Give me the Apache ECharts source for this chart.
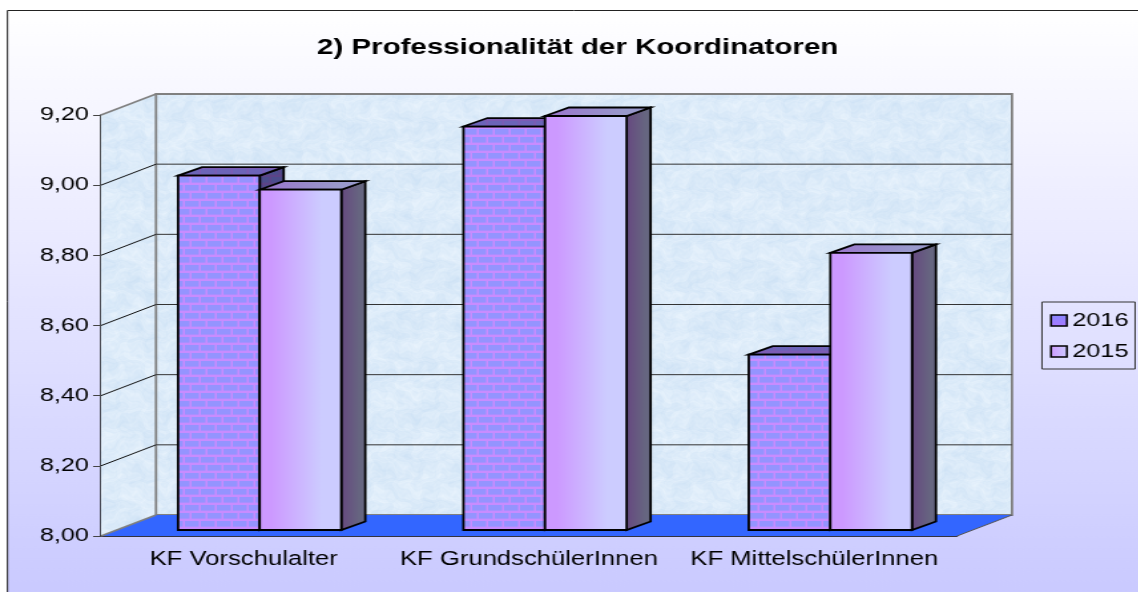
<!DOCTYPE html>
<html>
<head>
<meta charset="utf-8">
<style>
html, body { margin: 0; padding: 0; background: #fff; overflow: hidden; }
#wrap { width: 1139px; height: 592px; overflow: hidden; }
#chart { height: 592px; transform-origin: 0 0; }
</style>
<script src="https://cdn.jsdelivr.net/npm/echarts@6/dist/echarts.min.js"></script>
</head>
<body>
<div id="wrap"><div id="chart"></div></div>
<script>
var categories = ['KF Vorschulalter', 'KF GrundschülerInnen', 'KF MittelschülerInnen'];
var values2016 = [9.01, 9.15, 8.50];
var values2015 = [8.97, 9.18, 8.79];
var yTicks = [8.0, 8.2, 8.4, 8.6, 8.8, 9.0, 9.2];

// the original picture is stretched sideways, so draw narrow and stretch the same way
var stretch = 1.33;
var W = 1139 / stretch;
var dom = document.getElementById('chart');
dom.style.width = W + 'px';
dom.style.transform = 'scaleX(' + stretch + ')';

function sx(px) { return px / stretch; }

// 3d offsets
var wallDx = sx(55), wallDy = 21;
var floorDx = sx(16), floorDy = 6;
var barDx = sx(24), barDy = 8.5;
var barRatio = 0.286;

function brickTile(brick, mortar) {
    var c = document.createElement('canvas');
    c.width = 12; c.height = 16;
    var g = c.getContext('2d');
    g.fillStyle = mortar;
    g.fillRect(0, 0, 12, 16);
    g.fillStyle = brick;
    g.fillRect(0, 1, 10.5, 5.6);
    g.fillRect(7, 9, 10.5, 5.6);
    g.fillRect(-5, 9, 10.5, 5.6);
    return c;
}

// mottled pale blue wall paper
function wallTile() {
    var size = 240;
    var c = document.createElement('canvas');
    c.width = size; c.height = size;
    var g = c.getContext('2d');
    var img = g.createImageData(size, size);
    var k = 2 * Math.PI / size;
    for (var y = 0; y < size; y++) {
        for (var x = 0; x < size; x++) {
            var wx = x + 9 * Math.sin(k * 7 * y) + 4 * Math.sin(k * 17 * y);
            var wy = y + 9 * Math.cos(k * 5 * x) + 4 * Math.sin(k * 19 * x);
            var n = Math.sin(k * 4 * wx) * Math.cos(k * 5 * wy) * 0.45
                + Math.sin(k * 13 * wx) * Math.sin(k * 11 * wy) * 0.3
                + Math.sin(k * 29 * wx) * Math.cos(k * 31 * wy) * 0.25;
            var i = (y * size + x) * 4;
            img.data[i] = 220 + n * 14;
            img.data[i + 1] = 235 + n * 9;
            img.data[i + 2] = 249 + n * 4;
            img.data[i + 3] = 255;
        }
    }
    g.putImageData(img, 0, 0);
    return c;
}

var wallFill = { image: wallTile(), repeat: 'repeat' };
var brickFace = { image: brickTile('#9494ff', '#c88cff'), repeat: 'repeat' };
var brickTop = { image: brickTile('#6c64b8', '#7c5cb4'), repeat: 'repeat' };
var brickSide = { image: brickTile('#4c4c8c', '#5c4488'), repeat: 'repeat' };

function hGrad(a, b) {
    return { type: 'linear', x: 0, y: 0, x2: 1, y2: 0, colorStops: [{ offset: 0.15, color: a }, { offset: 0.75, color: b }] };
}

function poly(points, fill, stroke, lineWidth) {
    return {
        type: 'polygon',
        shape: { points: points },
        style: { fill: fill, stroke: stroke || 'none', lineWidth: lineWidth || 0, lineJoin: 'miter' },
        silent: true
    };
}

function renderWalls(params, api) {
    var r = params.coordSys;
    var l = r.x, t = r.y, b = r.y + r.height, e = r.x + r.width;
    return {
        type: 'group',
        children: [
            poly([[l, t], [l + wallDx, t - wallDy], [l + wallDx, b - wallDy], [l, b]], wallFill),
            poly([[l + wallDx, t - wallDy], [e + wallDx, t - wallDy], [e + wallDx, b - wallDy], [l + wallDx, b - wallDy]], wallFill, '#808080', 1.8),
            poly([[l, b], [l + wallDx, b - wallDy], [e + wallDx, b - wallDy], [e, b]], '#3366ff'),
            { type: 'line', shape: { x1: l, y1: t, x2: l + wallDx, y2: t - wallDy }, style: { stroke: '#808080', lineWidth: 1.5 }, silent: true },
            { type: 'line', shape: { x1: e, y1: b, x2: e + wallDx, y2: b - wallDy }, style: { stroke: '#555', lineWidth: 1 }, silent: true },
            { type: 'line', shape: { x1: l, y1: b, x2: l + wallDx, y2: b - wallDy }, style: { stroke: '#808080', lineWidth: 1.5 }, silent: true }
        ]
    };
}

function renderGridLine(params, api) {
    var r = params.coordSys;
    var y = api.coord([0, api.value(0)])[1];
    var l = r.x, e = r.x + r.width;
    var top = api.value(0) === yTicks[yTicks.length - 1];
    var bottom = api.value(0) === yTicks[0];
    if (top || bottom) return null;
    return {
        type: 'group',
        children: [
            { type: 'line', shape: { x1: l, y1: y, x2: l + wallDx, y2: y - wallDy }, style: { stroke: '#111', lineWidth: 1 }, silent: true },
            { type: 'line', shape: { x1: l + wallDx, y1: y - wallDy, x2: e + wallDx, y2: y - wallDy }, style: { stroke: '#333', lineWidth: 1 }, silent: true }
        ]
    };
}

function barRenderer(side, face, topFill, sideFill) {
    return function (params, api) {
        var top = api.coord([api.value(0), api.value(1)]);
        var base = api.coord([api.value(0), yTicks[0]]);
        var w = api.size([1, 0])[0] * barRatio;
        var x0 = top[0] + floorDx + (side < 0 ? -w : 0);
        var x1 = x0 + w;
        var y0 = top[1] - floorDy;
        var y1 = base[1] - floorDy;
        return {
            type: 'group',
            children: [
                poly([[x1, y0], [x1 + barDx, y0 - barDy], [x1 + barDx, y1 - barDy], [x1, y1]], sideFill, '#000', 1.8),
                poly([[x0, y0], [x0 + barDx, y0 - barDy], [x1 + barDx, y0 - barDy], [x1, y0]], topFill, '#000', 1.8),
                poly([[x0, y0], [x1, y0], [x1, y1], [x0, y1]], face, '#000', 1.8)
            ]
        };
    };
}

function pairs(list) {
    return list.map(function (v, i) { return [i, v]; });
}

var myChart = echarts.init(dom, null, { renderer: 'canvas' });

myChart.setOption({
    animation: false,
    title: {
        text: '2) Professionalität der Koordinatoren',
        left: sx(571),
        top: 32,
        textAlign: 'center',
        textStyle: { fontFamily: 'Liberation Sans', fontSize: 22.2, fontWeight: 'bold', color: '#000' }
    },
    graphic: [{
        type: 'rect',
        z: -10,
        silent: true,
        shape: { x: sx(7.5), y: 10.5, width: W, height: 600 },
        style: {
            fill: { type: 'linear', x: 0, y: 0, x2: 0, y2: 1, colorStops: [{ offset: 0, color: '#ffffff' }, { offset: 1, color: '#c8c8ff' }] },
            stroke: '#222',
            lineWidth: 1
        }
    }],
    legend: {
        left: sx(1042),
        top: 302,
        width: sx(94),
        orient: 'vertical',
        padding: [9, 5, 8, 6],
        itemGap: 12,
        itemWidth: 12,
        itemHeight: 11,
        borderColor: '#333',
        borderWidth: 1,
        textStyle: { fontFamily: 'Liberation Sans', fontSize: 19, color: '#000', padding: [0, 0, 0, -1] },
        data: [
            { name: '2016', icon: 'rect', itemStyle: { color: { type: 'linear', x: 0, y: 0, x2: 0, y2: 1, colorStops: [{ offset: 0, color: '#8888ff' }, { offset: 1, color: '#a878ff' }] }, borderColor: '#000', borderWidth: 1.5 } },
            { name: '2015', icon: 'rect', itemStyle: { color: { type: 'linear', x: 0, y: 0, x2: 1, y2: 0, colorStops: [{ offset: 0, color: '#cc99ff' }, { offset: 1, color: '#ccccff' }] }, borderColor: '#000', borderWidth: 1.5 } }
        ]
    },
    grid: { left: sx(101), top: 115, width: sx(856), height: 421 },
    xAxis: {
        type: 'category',
        data: categories,
        axisLine: { lineStyle: { color: '#000', width: 1.5 } },
        axisTick: { length: 7, alignWithLabel: false, lineStyle: { color: '#444', width: 1 } },
        axisLabel: { margin: 14, interval: 0, fontFamily: 'Liberation Sans', fontSize: 19.3, color: '#000' },
        splitLine: { show: false }
    },
    yAxis: {
        type: 'value',
        min: 8,
        max: 9.2,
        interval: 0.2,
        axisLine: { show: true, lineStyle: { color: '#000', width: 1.5 } },
        axisTick: { show: true, length: 6, lineStyle: { color: '#444', width: 1 } },
        axisLabel: {
            margin: 9,
            fontFamily: 'Liberation Sans',
            fontSize: 19,
            color: '#000',
            formatter: function (v) { return v.toFixed(2).replace('.', ','); }
        },
        splitLine: { show: false }
    },
    series: [
        { type: 'custom', name: 'walls', z: 1, silent: true, clip: false, renderItem: renderWalls, data: [[0]] },
        { type: 'custom', name: 'gridlines', z: 1, silent: true, clip: false, renderItem: renderGridLine, encode: { y: 0 }, data: yTicks.map(function (v) { return [v]; }) },
        { type: 'custom', name: '2016', z: 3, clip: false, renderItem: barRenderer(-1, brickFace, brickTop, brickSide), encode: { x: 0, y: 1 }, data: pairs(values2016) },
        { type: 'custom', name: '2015', z: 3, clip: false, renderItem: barRenderer(1, hGrad('#cc99ff', '#ccccff'), hGrad('#9a7ccc', '#9999cc'), hGrad('#664d80', '#666680')), encode: { x: 0, y: 1 }, data: pairs(values2015) }
    ]
});
</script>
</body>
</html>
